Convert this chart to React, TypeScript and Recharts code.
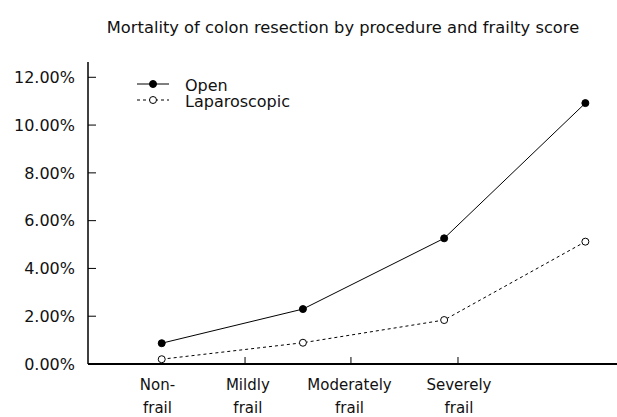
import React from "react";
import { LineChart, Line, XAxis, YAxis } from "recharts";

const categories = ["Non-frail", "Mildly frail", "Moderately frail", "Severely frail"];
const categoryPos = [0, 1, 2, 3];
const openValues = [0.87, 2.3, 5.26, 10.92];
const lapValues = [0.2, 0.89, 1.84, 5.12];
const seriesNames = ["Open", "Laparoscopic"];
const yTicks = [0, 2, 4, 6, 8, 10, 12];
const xLabelLines = [["Non-", "frail"], ["Mildly", "frail"], ["Moderately", "frail"], ["Severely", "frail"]];
const xLabelPos = [-0.03, 0.61, 1.33, 2.105];
const xMarkPos = [0.59, 1.34, 2.098];
const title = "Mortality of colon resection by procedure and frailty score";

const data = categories.map((c, i) => ({
  name: c,
  pos: categoryPos[i],
  open: openValues[i],
  lap: lapValues[i],
}));

const FONT = "'DejaVu Sans', Verdana, sans-serif";
const TXT = "#111";

const XTick = (props: any) => {
  const { x, y, payload } = props;
  const v = payload.value;
  const li = xLabelPos.indexOf(v);
  const mi = xMarkPos.indexOf(v);
  return (
    <g>
      {mi >= 0 && <line x1={x} x2={x} y1={y} y2={y - 7} stroke="#000" strokeWidth={1} />}
      {li >= 0 && (
        <text x={x} y={y} textAnchor="middle" fontFamily={FONT} fontSize={15} fill={TXT}>
          <tspan x={x} y={y + 26}>{xLabelLines[li][0]}</tspan>
          <tspan x={x} y={y + 49}>{xLabelLines[li][1]}</tspan>
        </text>
      )}
    </g>
  );
};

const YTick = (props: any) => {
  const { x, y, payload } = props;
  return (
    <g>
      <line x1={x} x2={x + 8} y1={y} y2={y} stroke="#000" strokeWidth={1} />
      <text x={x - 13} y={y} dy="0.36em" textAnchor="end" fontFamily={FONT} fontSize={16} fill={TXT}>
        {Number(payload.value).toFixed(2) + "%"}
      </text>
    </g>
  );
};

export default function App() {
  return (
    <div style={{ position: "absolute", left: 0, top: 0, width: 617, height: 417, background: "#fff" }}>
      <LineChart
        width={617}
        height={417}
        data={data}
        margin={{ top: 62, right: 0, left: 0, bottom: 0 }}
      >
        <XAxis
          dataKey="pos"
          type="number"
          domain={[-0.522, 3.224]}
          ticks={[...xLabelPos, ...xMarkPos]}
          interval={0}
          tick={<XTick />}
          tickLine={false}
          tickSize={0}
          tickMargin={0}
          height={53}
          axisLine={{ stroke: "#000", strokeWidth: 2 }}
          allowDataOverflow
        />
        <YAxis
          type="number"
          domain={[0, 12.64]}
          ticks={yTicks}
          interval={0}
          width={88}
          tick={<YTick />}
          tickLine={false}
          tickSize={0}
          tickMargin={0}
          axisLine={{ stroke: "#000", strokeWidth: 1.5 }}
          allowDataOverflow
        />
        <Line
          dataKey="open"
          name={seriesNames[0]}
          stroke="#000"
          strokeWidth={1}
          dot={{ r: 3.5, fill: "#000", stroke: "#000", strokeWidth: 1 }}
          isAnimationActive={false}
        />
        <Line
          dataKey="lap"
          name={seriesNames[1]}
          stroke="#000"
          strokeWidth={1}
          strokeDasharray="3 3"
          dot={{ r: 3.5, fill: "#fff", stroke: "#000", strokeWidth: 1, strokeDasharray: "" }}
          isAnimationActive={false}
        />
      </LineChart>
      <svg
        width={617}
        height={417}
        style={{ position: "absolute", left: 0, top: 0, pointerEvents: "none" }}
      >
        <text x={343} y={33} textAnchor="middle" fontFamily={FONT} fontSize={16.3} fill={TXT}>
          {title}
        </text>
        {seriesNames.map((n, i) => {
          const cy = 84 + i * 16;
          return (
            <g key={n}>
              <line
                x1={137}
                x2={169}
                y1={cy}
                y2={cy}
                stroke="#000"
                strokeWidth={1}
                strokeDasharray={i === 1 ? "3 3" : undefined}
              />
              <circle cx={153} cy={cy} r={3.5} fill={i === 0 ? "#000" : "#fff"} stroke="#000" strokeWidth={1} />
              <text x={185} y={cy + 6.5} fontFamily={FONT} fontSize={16} fill={TXT}>
                {n}
              </text>
            </g>
          );
        })}
      </svg>
    </div>
  );
}
